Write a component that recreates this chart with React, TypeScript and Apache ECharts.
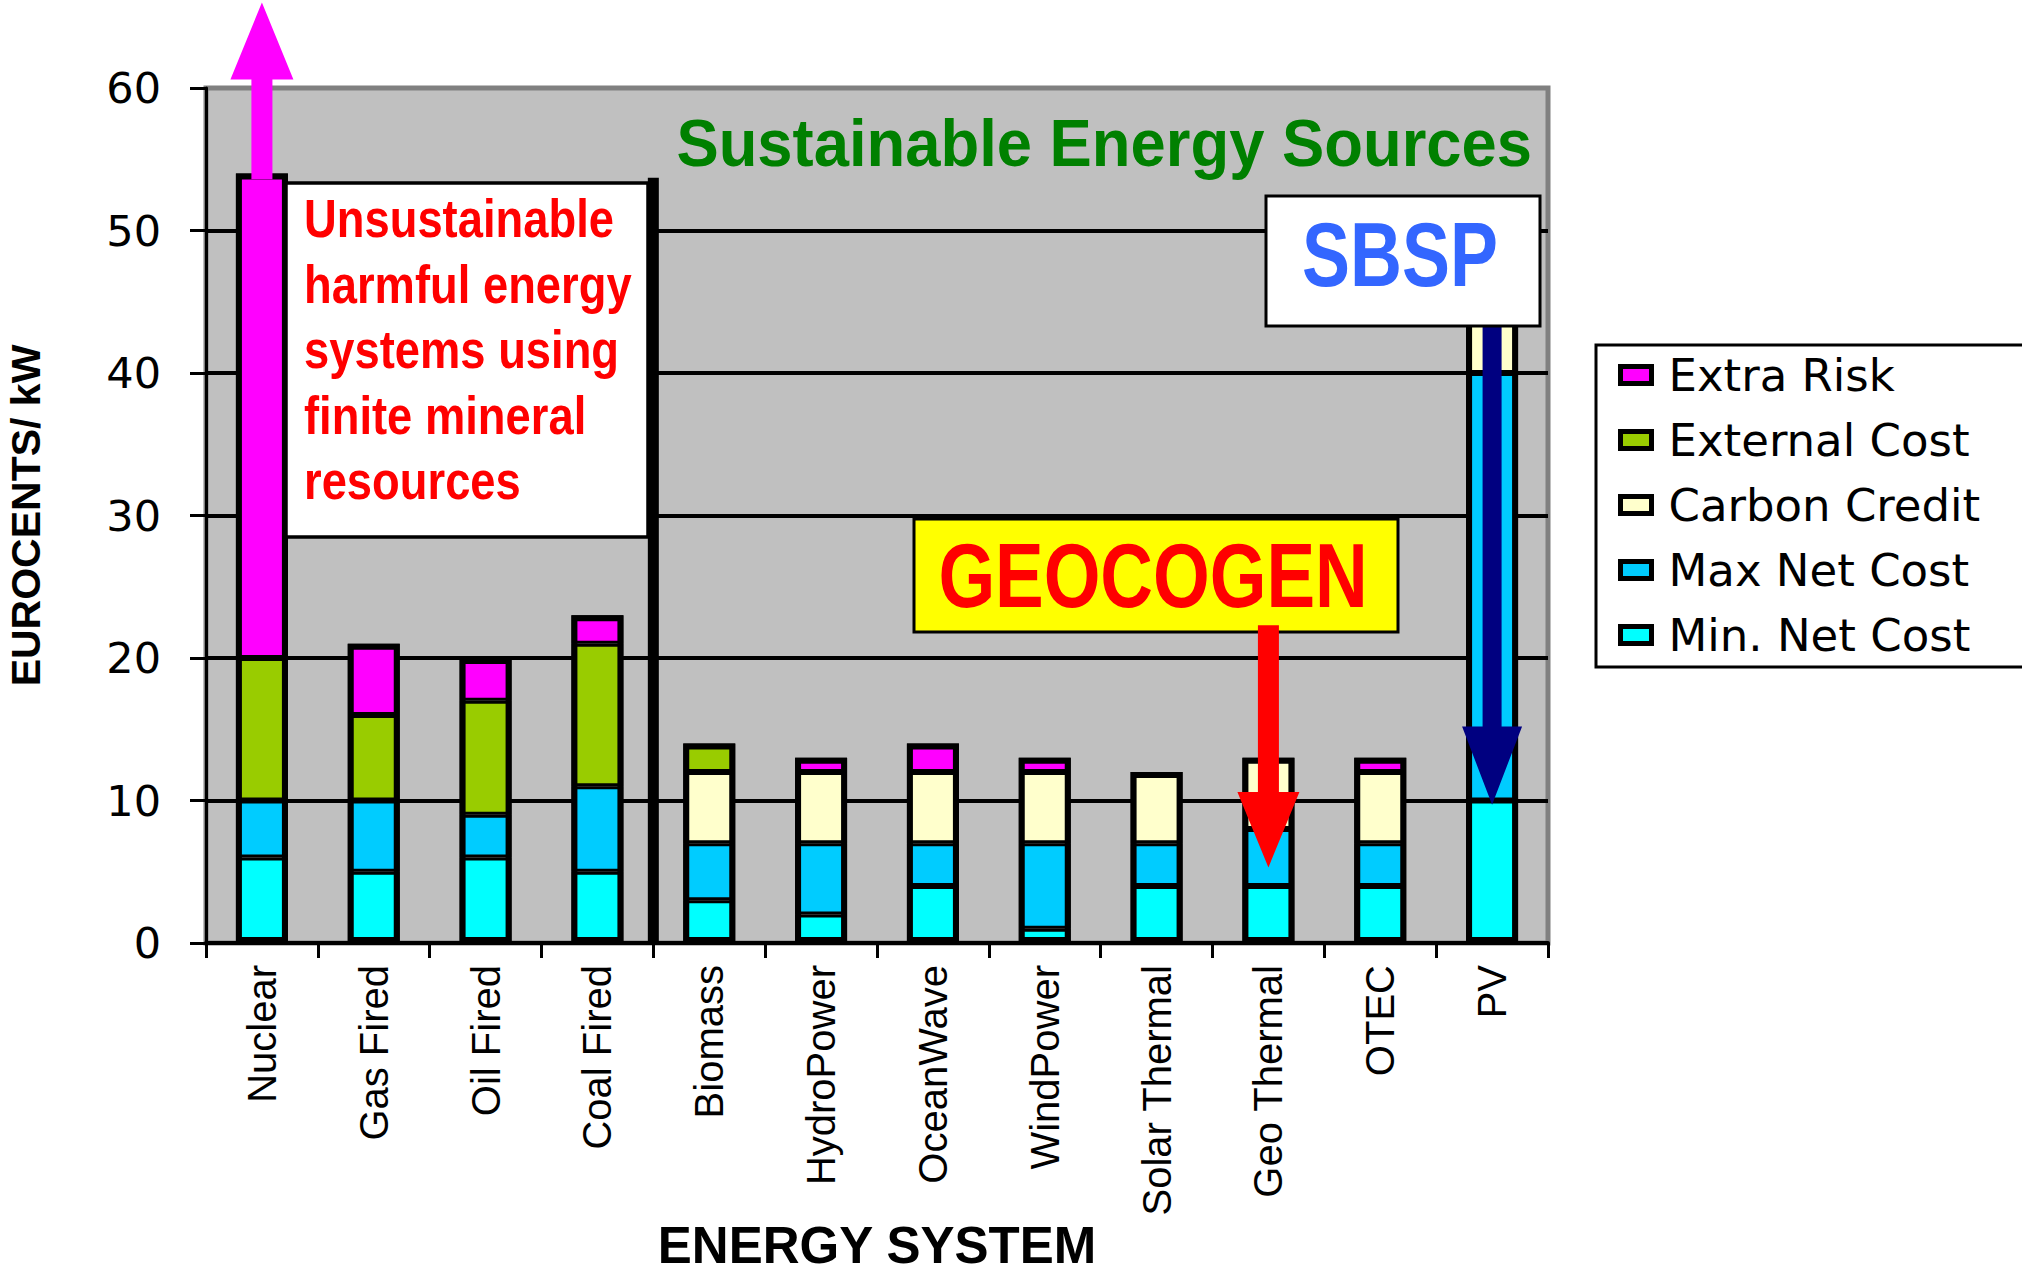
import React, { useEffect, useRef } from "react";
import * as echarts from "echarts";

// ---------- data ----------
const categories = [
  "Nuclear",
  "Gas Fired",
  "Oil Fired",
  "Coal Fired",
  "Biomass",
  "HydroPower",
  "OceanWave",
  "WindPower",
  "Solar Thermal",
  "Geo Thermal",
  "OTEC",
  "PV",
];
const minNetCost = [6, 5, 6, 5, 3, 2, 4, 1, 4, 4, 4, 10];
const maxNetCost = [4, 5, 3, 6, 4, 5, 3, 6, 3, 4, 3, 30];
const carbonCredit = [null, null, null, null, 5, 5, 5, 5, 5, 5, 5, 6];
const externalCost = [10, 6, 8, 10, 2, null, null, null, null, null, null, null];
const extraRisk = [34, 5, 3, 2, null, 1, 2, 1, null, null, 1, null];
const legendOrder = ["Extra Risk", "External Cost", "Carbon Credit", "Max Net Cost", "Min. Net Cost"];
const yMin = 0;
const yMax = 60;
const yInterval = 10;

// annotation anchors (category index, values on the y scale)
const separatorAfterIndex = 3;
const separatorTopValue = 53.7;
const nuclearArrow = { cat: 0, from: 53.6, base: 60.6, tip: 66, shaft: 21, head: 63, color: "#FF00FF" };
const geoArrow = { cat: 9, from: 22.3, base: 10.6, tip: 5.3, shaft: 21, head: 62, color: "#FF0000" };
const pvArrow = { cat: 11, from: 44, base: 15.2, tip: 9.7, shaft: 19, head: 60, color: "#000080" };

const unsustainableText = ["Unsustainable", "harmful energy", "systems using", "finite mineral", "resources"];

const COLORS = {
  extra: "#FF00FF",
  external: "#99CC00",
  carbon: "#FFFFCC",
  maxNet: "#00CCFF",
  minNet: "#00FFFF",
};

export default function App() {
  const ref = useRef<HTMLDivElement>(null);

  useEffect(() => {
    if (!ref.current) return;
    const chart = echarts.init(ref.current, undefined, { renderer: "svg" });

    const BAR_W = 52;
    const mk = (name: string, data: (number | null)[], color: string) => ({
      name,
      type: "bar",
      stack: "cost",
      data,
      barWidth: BAR_W,
      itemStyle: { color, borderColor: "#000", borderWidth: 3 },
      emphasis: { disabled: true },
    });

    // outer outline of each stacked column (total of the stacked values)
    const totals = categories.map((_, i) =>
      [minNetCost, maxNetCost, carbonCredit, externalCost, extraRisk].reduce(
        (s, arr) => s + ((arr[i] as number) || 0),
        0
      )
    );

    const option: any = {
      animation: false,
      backgroundColor: "#fff",
      grid: {
        left: 206,
        right: 2022 - 1548,
        top: 88,
        bottom: 1275 - 943,
        outerBoundsMode: "none",
        containLabel: false,
        show: true,
        backgroundColor: "#C0C0C0",
        borderColor: "#808080",
        borderWidth: 5,
      },
      legend: {
        data: legendOrder,
        orient: "vertical",
        left: 1596,
        top: 345,
        icon: "rect",
        itemWidth: 31,
        itemHeight: 17,
        itemGap: 20,
        padding: [7.5, 200, 9.5, 22],
        backgroundColor: "#fff",
        borderColor: "#000",
        borderWidth: 3,
        selectedMode: false,
        itemStyle: { borderColor: "#000", borderWidth: 5 },
        textStyle: {
          fontSize: 45,
          fontFamily: "DejaVu Sans",
          color: "#000",
          padding: [0, 0, 0, 12],
        },
      },
      xAxis: {
        type: "category",
        data: categories,
        name: "ENERGY SYSTEM",
        nameLocation: "middle",
        nameGap: 277,
        nameMoveOverlap: false,
        nameTextStyle: {
          fontSize: 51,
          fontWeight: "bold",
          fontFamily: "Liberation Sans",
          color: "#000",
        },
        axisLine: { show: true, lineStyle: { color: "#000", width: 4 } },
        axisTick: { show: true, length: 15, lineStyle: { color: "#000", width: 3 } },
        axisLabel: {
          rotate: 90,
          interval: 0,
          margin: 22,
          fontSize: 40,
          fontFamily: "Liberation Sans",
          color: "#000",
        },
        splitLine: { show: false },
      },
      yAxis: {
        type: "value",
        min: yMin,
        max: yMax,
        interval: yInterval,
        name: "EUROCENTS/ kW",
        nameLocation: "middle",
        nameRotate: 90,
        nameGap: 160,
        nameMoveOverlap: false,
        nameTextStyle: {
          fontSize: 41,
          fontWeight: "bold",
          fontFamily: "Liberation Sans",
          color: "#000",
        },
        axisLine: { show: true, lineStyle: { color: "#000", width: 3 } },
        axisTick: { show: true, length: 16, lineStyle: { color: "#000", width: 3 } },
        axisLabel: { fontSize: 43, fontFamily: "DejaVu Sans", color: "#000", margin: 45 },
        splitLine: { show: true, showMaxLine: false, showMinLine: false, lineStyle: { color: "#000", width: 4 } },
      },
      series: [
        mk("Min. Net Cost", minNetCost, COLORS.minNet),
        mk("Max Net Cost", maxNetCost, COLORS.maxNet),
        mk("Carbon Credit", carbonCredit, COLORS.carbon),
        mk("External Cost", externalCost, COLORS.external),
        mk("Extra Risk", extraRisk, COLORS.extra),
        {
          name: "outline",
          type: "bar",
          data: totals,
          barWidth: BAR_W,
          barGap: "-100%",
          silent: true,
          itemStyle: { color: "rgba(0,0,0,0)", borderColor: "#000", borderWidth: 6 },
          emphasis: { disabled: true },
        },
      ],
    };

    chart.setOption(option);

    const px = (c: number, v: number): number[] =>
      chart.convertToPixel({ gridIndex: 0 }, [c, v]) as number[];

    const arrow = (a: typeof nuclearArrow, z: number) => {
      const cx = px(a.cat, 0)[0];
      const yFrom = px(a.cat, a.from)[1];
      const yBase = px(a.cat, a.base)[1];
      const yTip = px(a.cat, a.tip)[1];
      const s = a.shaft / 2;
      const h = a.head / 2;
      return {
        type: "polygon",
        z,
        shape: {
          points: [
            [cx - s, yFrom],
            [cx + s, yFrom],
            [cx + s, yBase],
            [cx + h, yBase],
            [cx, yTip],
            [cx - h, yBase],
            [cx - s, yBase],
          ],
        },
        style: { fill: a.color },
      };
    };

    const sepX = (px(separatorAfterIndex, 0)[0] + px(separatorAfterIndex + 1, 0)[0]) / 2;
    const sepTop = px(0, separatorTopValue)[1];
    const sepBottom = px(0, 0)[1];

    const graphic: any[] = [
      {
        type: "rect",
        z: 90,
        shape: { x: sepX - 5.5, y: sepTop, width: 11, height: sepBottom - sepTop },
        style: { fill: "#000" },
      },
      {
        type: "rect",
        z: 91,
        shape: { x: 286, y: 183, width: 362, height: 354 },
        style: { fill: "#fff", stroke: "#000", lineWidth: 3.5 },
      },
      {
        type: "text",
        z: 92,
        x: 304,
        y: 186,
        scaleX: 0.84,
        style: {
          text: unsustainableText.join("\n"),
          fill: "#FF0000",
          fontSize: 54,
          fontWeight: "bold",
          fontFamily: "Liberation Sans",
          lineHeight: 65.5,
          textAlign: "left",
          textVerticalAlign: "top",
          verticalAlign: "top",
        },
      },
      {
        type: "text",
        z: 92,
        x: 1532,
        y: 143,
        scaleX: 0.96,
        style: {
          text: "Sustainable Energy Sources",
          fill: "#008000",
          fontSize: 66,
          fontWeight: "bold",
          fontFamily: "Liberation Sans",
          textAlign: "right",
          textVerticalAlign: "middle",
          verticalAlign: "middle",
        },
      },
      arrow(pvArrow, 93),
      {
        type: "rect",
        z: 94,
        shape: { x: 1266, y: 196, width: 274, height: 130 },
        style: { fill: "#fff", stroke: "#000", lineWidth: 3 },
      },
      {
        type: "text",
        z: 95,
        x: 1400,
        y: 254,
        scaleX: 0.79,
        style: {
          text: "SBSP",
          fill: "#3366FF",
          fontSize: 91,
          fontWeight: "bold",
          fontFamily: "Liberation Sans",
          textAlign: "center",
          textVerticalAlign: "middle",
          verticalAlign: "middle",
        },
      },
      {
        type: "rect",
        z: 94,
        shape: { x: 914, y: 519, width: 484, height: 113 },
        style: { fill: "#FFFF00", stroke: "#000", lineWidth: 3 },
      },
      {
        type: "text",
        z: 95,
        x: 1153,
        y: 576,
        scaleX: 0.81,
        style: {
          text: "GEOCOGEN",
          fill: "#FF0000",
          fontSize: 90,
          fontWeight: "bold",
          fontFamily: "Liberation Sans",
          textAlign: "center",
          textVerticalAlign: "middle",
          verticalAlign: "middle",
        },
      },
      arrow(geoArrow, 96),
      arrow(nuclearArrow, 96),
    ];

    chart.setOption({ graphic });

    return () => {
      chart.dispose();
    };
  }, []);

  return (
    <div
      ref={ref}
      style={{ position: "absolute", left: 0, top: 0, width: 2022, height: 1275, background: "#fff" }}
    />
  );
}
